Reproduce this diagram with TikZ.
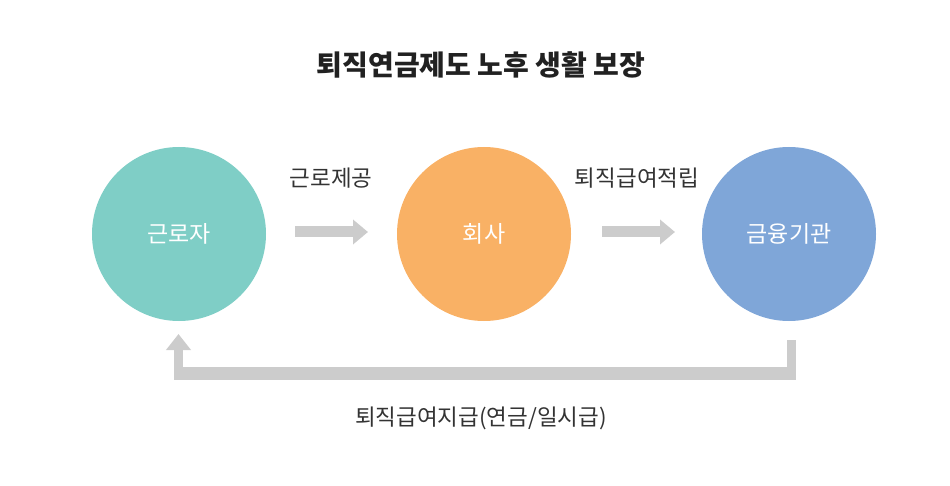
\documentclass[tikz,border=0pt]{standalone}
\usepackage{fontspec}
\setmainfont{Noto Sans CJK KR}
\usetikzlibrary{arrows.meta}

\begin{document}
\begin{tikzpicture}
[x=1pt, y=-1pt,
party/.style={circle, minimum size=174pt, inner sep=0pt, text=white, font=\fontsize{23}{23}\selectfont},
label text/.style={text=black!80, inner sep=0pt, font=\fontsize{22.5}{23}\selectfont},
flow/.style={draw=black!20, line width=11pt, -{Triangle[width=24pt,length=15pt]}},
return bar/.style={draw=black!20, line width=13pt},
return leg/.style={draw=black!20, line width=9pt}]
\useasboundingbox (0,0) rectangle (950,486);
\node[text=black!87, font=\fontsize{28}{28}\selectfont\bfseries] (title) at (481,65) {퇴직연금제도 노후 생활 보장};
\node[party, fill={rgb,255:red,127;green,206;blue,198}] (worker) at (179,234) {근로자};
\node[party, fill={rgb,255:red,249;green,177;blue,101}] (company) at (484,234) {회사};
\node[party, fill={rgb,255:red,127;green,166;blue,216}] (bank) at (789,234) {금융기관};
\coordinate (w2c start) at (295,232);
\coordinate (w2c end) at (368,232);
\coordinate (c2b start) at (602,232);
\coordinate (c2b end) at (675,232);
\draw[flow] (w2c start) -- (w2c end);
\draw[flow] (c2b start) -- (c2b end);
\node[label text] (labor) at (331,178) {근로제공};
\node[label text] (reserve) at (637,178) {퇴직급여적립};
\coordinate (back top) at (791,340);
\coordinate (back right) at (791,373);
\coordinate (back left) at (178.5,373);
\coordinate (back tip) at (178.5,334);
\draw[return leg] (back top) -- ([yshift=-6.5pt]back right);
\draw[return bar] ([xshift=4.5pt]back right) -- ([xshift=-4.5pt]back left);
\draw[return leg, -{Triangle[width=24pt,length=16pt]}] ([yshift=-6.5pt]back left) -- (back tip);
\node[label text] (payout) at (481,418) {퇴직급여지급(연금/일시급)};
\end{tikzpicture}
\end{document}
